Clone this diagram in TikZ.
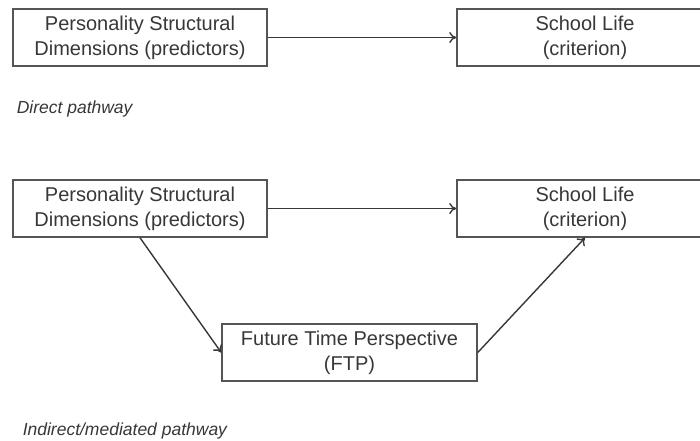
\documentclass[tikz,border=0pt]{standalone}
\usepackage{fontspec}
\setmainfont{Liberation Sans}
\usetikzlibrary{arrows.meta}
\definecolor{boxgray}{RGB}{85,85,85}
\definecolor{textgray}{RGB}{55,55,55}
\tikzset{every picture/.style={line width=1.5pt}}
\tikzset{
  varbox/.style={draw=boxgray, text=textgray, align=center, inner sep=0pt,
    minimum height=57pt, font=\fontsize{20}{25}\selectfont},
  pathlabel/.style={text=textgray, inner sep=0pt, font=\fontsize{17.5}{21}\selectfont\itshape},
  link/.style={draw=textgray, line width=1.4pt, -{To[length=7pt,width=11pt]}}
}

\begin{document}
\begin{tikzpicture}[x=1pt,y=1pt,yscale=-1,xscale=1]
\useasboundingbox (0,0) rectangle (700,440);
\clip (0,0) rectangle (700,440);

% Direct pathway
\node [varbox, minimum width=254pt] (pred1) at (140,37.5) {Personality Structural\\Dimensions (predictors)};
\node [varbox, minimum width=256pt] (crit1) at (585,37.5) {School Life\\(criterion)};
\node [pathlabel, anchor=base west] (direct) at (16,113) {Direct pathway};

\draw [link] (pred1.east) -- (crit1.west);

% Indirect pathway
\node [varbox, minimum width=254pt] (pred2) at (140,208.5) {Personality Structural\\Dimensions (predictors)};
\node [varbox, minimum width=256pt] (crit2) at (585,208.5) {School Life\\(criterion)};
\node [varbox, minimum width=255pt] (ftp) at (349.5,352.5) {Future Time Perspective\\(FTP)};
\node [pathlabel, anchor=base west] (indirect) at (22,435) {Indirect/mediated\ pathway};

\draw [link] (pred2.east) -- (crit2.west);
\draw [link] (pred2.south) -- (ftp.west);
\draw [link] (ftp.east) -- (crit2.south);

\end{tikzpicture}
\end{document}
